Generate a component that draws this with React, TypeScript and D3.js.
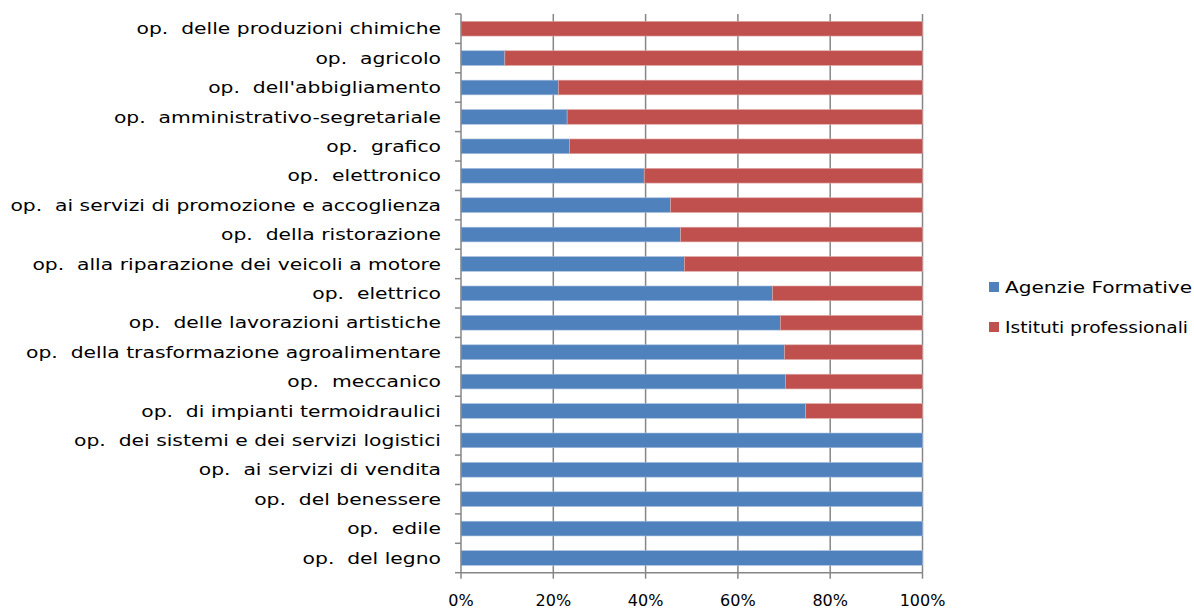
import React from "react";
import * as d3 from "d3";

const categories = [
  "op.  delle produzioni chimiche",
  "op.  agricolo",
  "op.  dell'abbigliamento",
  "op.  amministrativo-segretariale",
  "op.  grafico",
  "op.  elettronico",
  "op.  ai servizi di promozione e accoglienza",
  "op.  della ristorazione",
  "op.  alla riparazione dei veicoli a motore",
  "op.  elettrico",
  "op.  delle lavorazioni artistiche",
  "op.  della trasformazione agroalimentare",
  "op.  meccanico",
  "op.  di impianti termoidraulici",
  "op.  dei sistemi e dei servizi logistici",
  "op.  ai servizi di vendita",
  "op.  del benessere",
  "op.  edile",
  "op.  del legno",
];

const agenzie = [0, 9.5, 21.1, 23.0, 23.5, 39.7, 45.4, 47.6, 48.4, 67.5, 69.2, 70.1, 70.3, 74.7, 100, 100, 100, 100, 100];
const istituti = agenzie.map((v) => 100 - v);

const seriesNames = ["Agenzie Formative", "Istituti professionali"];
const seriesColors = ["#4F81BD", "#C0504D"];
const xTicks = [0, 20, 40, 60, 80, 100];

const W = 1194;
const H = 609;
const left = 461;
const right = 922.5;
const top = 14;
const bottom = 572.7;
const FONT = "'DejaVu Sans', sans-serif";
const SX = 1.27;
const legendTextWidths = [187, 183];

export default function App() {
  const x = d3.scaleLinear().domain([0, 100]).range([left, right]);
  const y = d3
    .scaleBand<string>()
    .domain(categories)
    .range([top, bottom])
    .paddingInner(0.5)
    .paddingOuter(0.25);
  const step = y.step();
  const boundaries = d3.range(categories.length + 1).map((i) => top + i * step);
  const axisColor = "#868686";

  return (
    <svg
      width={W}
      height={H}
      style={{ position: "absolute", left: 0, top: 0, display: "block", background: "#fff" }}
      fontFamily={FONT}
    >
      {/* gridlines */}
      {xTicks.slice(1).map((t) => (
        <line key={"g" + t} x1={x(t)} x2={x(t)} y1={top} y2={bottom} stroke={axisColor} strokeWidth={1.5} />
      ))}
      {/* bars */}
      {categories.map((c, i) => {
        const y0 = y(c)!;
        const h = y.bandwidth();
        return (
          <g key={c}>
            {agenzie[i] > 0 && (
              <rect x={x(0)} y={y0} width={x(agenzie[i]) - x(0)} height={h} fill={seriesColors[0]} stroke="#A7BFDE" strokeWidth={0.6} />
            )}
            {istituti[i] > 0 && (
              <rect x={x(agenzie[i])} y={y0} width={x(100) - x(agenzie[i])} height={h} fill={seriesColors[1]} stroke="#DFA7A6" strokeWidth={0.6} />
            )}
          </g>
        );
      })}
      {/* y axis */}
      <line x1={left} x2={left} y1={top} y2={bottom} stroke={axisColor} strokeWidth={1.5} />
      {boundaries.map((b, i) => (
        <line key={"yt" + i} x1={left - 6} x2={left} y1={b} y2={b} stroke={axisColor} strokeWidth={1.5} />
      ))}
      {/* x axis */}
      <line x1={left} x2={right} y1={bottom} y2={bottom} stroke={axisColor} strokeWidth={1.5} />
      {xTicks.map((t) => (
        <line key={"xt" + t} x1={x(t)} x2={x(t)} y1={bottom} y2={bottom + 6} stroke={axisColor} strokeWidth={1.5} />
      ))}
      {xTicks.map((t) => (
        <text key={"xl" + t} x={x(t)} y={606} textAnchor="middle" fontSize={16} fill="#000">
          {t + "%"}
        </text>
      ))}
      {/* category labels */}
      <g transform={`scale(${SX},1)`}>
        {categories.map((c) => (
          <text
            key={"l" + c}
            x={441 / SX}
            y={y(c)! + y.bandwidth() / 2}
            dy="0.35em"
            textAnchor="end"
            fontSize={16}
            fill="#000"
            style={{ whiteSpace: "pre" }}
          >
            {c}
          </text>
        ))}
      </g>
      {/* legend */}
      {seriesNames.map((s, i) => (
        <g key={s} transform={`translate(989, ${282 + i * 40})`}>
          <rect x={0} y={0} width={10} height={10} fill={seriesColors[i]} />
          <text
            x={16}
            y={5}
            dy="0.35em"
            fontSize={16}
            fill="#000"
            textLength={legendTextWidths[i]}
            lengthAdjust="spacingAndGlyphs"
          >
            {s}
          </text>
        </g>
      ))}
    </svg>
  );
}
